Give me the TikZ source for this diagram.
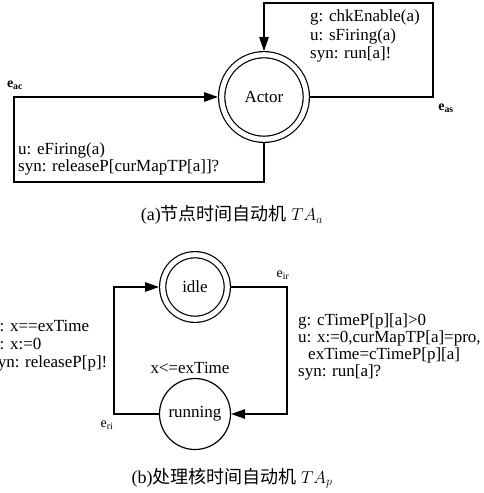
\documentclass[tikz,border=0pt]{standalone}
\usepackage{fontspec}
\setmainfont{Liberation Serif}
\newfontfamily\cjkfont{Noto Sans CJK SC}
\usetikzlibrary{arrows.meta}

\begin{document}
\begin{tikzpicture}[
        x = 1pt, y = -1pt,
        every node/.style = {font=\fontsize{17}{18.5}\selectfont},
        state/.style = {circle, draw, line width=1.2pt, inner sep=0pt},
        accepting/.style = {double, double distance=5pt, outer sep=3.7pt},
        edge/.style = {line width=1.2pt, -{Triangle[length=14pt,width=9.5pt]}},
        guard/.style = {align=left, anchor=north west, inner sep=0pt},
        elabel/.style = {inner sep=0pt, font=\fontsize{14}{14}\selectfont},
        caption/.style = {inner sep=0pt, font=\fontsize{18}{18}\selectfont},
      ]
      \useasboundingbox (0,0) rectangle (483,493);
      \clip (0,0) rectangle (483,493);

      % TA_a
      \node[state, accepting, minimum size=84.6pt] (actor) at (264,97) {Actor};
      \coordinate (as) at (433,97);
      \coordinate (astop) at (433,3);
      \coordinate (ac) at (14,97);
      \coordinate (acbot) at (14,182);

      \draw[edge] (actor.east) -- (as) -- (astop) -| (actor.north);
      \draw[edge] (actor.south) |- (acbot) -- (ac) -- (actor.west);

      \node[elabel, font=\fontsize{14}{14}\selectfont\bfseries] (eac) at (15,85) {e\textsubscript{ac}};
      \node[elabel, font=\fontsize{14}{14}\selectfont\bfseries] (eas) at (446,108) {e\textsubscript{as}};
      \node[guard] (gas) at (310,10) {g: chkEnable(a)\\u: sFiring(a)\\syn: run[a]!};
      \node[guard, font=\fontsize{17}{17}\selectfont] (gac) at (18,143)
        {u: eFiring(a)\\syn: releaseP[curMapTP[a]]?};

      \node[caption] (capa) at (232,215) {(a){\cjkfont 节点时间自动机} $TA_a$};

      % TA_p
      \node[state, accepting, minimum size=64.6pt] (idle) at (195,287) {idle};
      \node[state, minimum size=71pt] (running) at (195,414) {running};
      \coordinate (ir) at (287,287);
      \coordinate (ri) at (114,414);

      \draw[edge] (idle.east) -- (ir) |- (running.east);
      \draw[edge] (running.west) -- (ri) |- (idle.west);

      \node[elabel] (eir) at (283,275) {e\textsubscript{ir}};
      \node[elabel] (eri) at (107,425) {e\textsubscript{ri}};
      \node[inner sep=0pt, anchor=base] (inv) at (190,373) {x<=exTime};
      \node[guard, font=\fontsize{17}{17}\selectfont] (gir) at (298,313)
        {g: cTimeP[p][a]>0\\u: x:=0,curMapTP[a]=pro,\\\hspace*{10pt}exTime=cTimeP[p][a]\\syn: run[a]?};
      \node[guard, font=\fontsize{17}{18}\selectfont] (gri) at (-9,320)
        {g: x==exTime\\u: x:=0\\syn: releaseP[p]!};

      \node[caption] (capb) at (232,478) {(b){\cjkfont 处理核时间自动机} $TA_p$};
    \end{tikzpicture}
\end{document}
